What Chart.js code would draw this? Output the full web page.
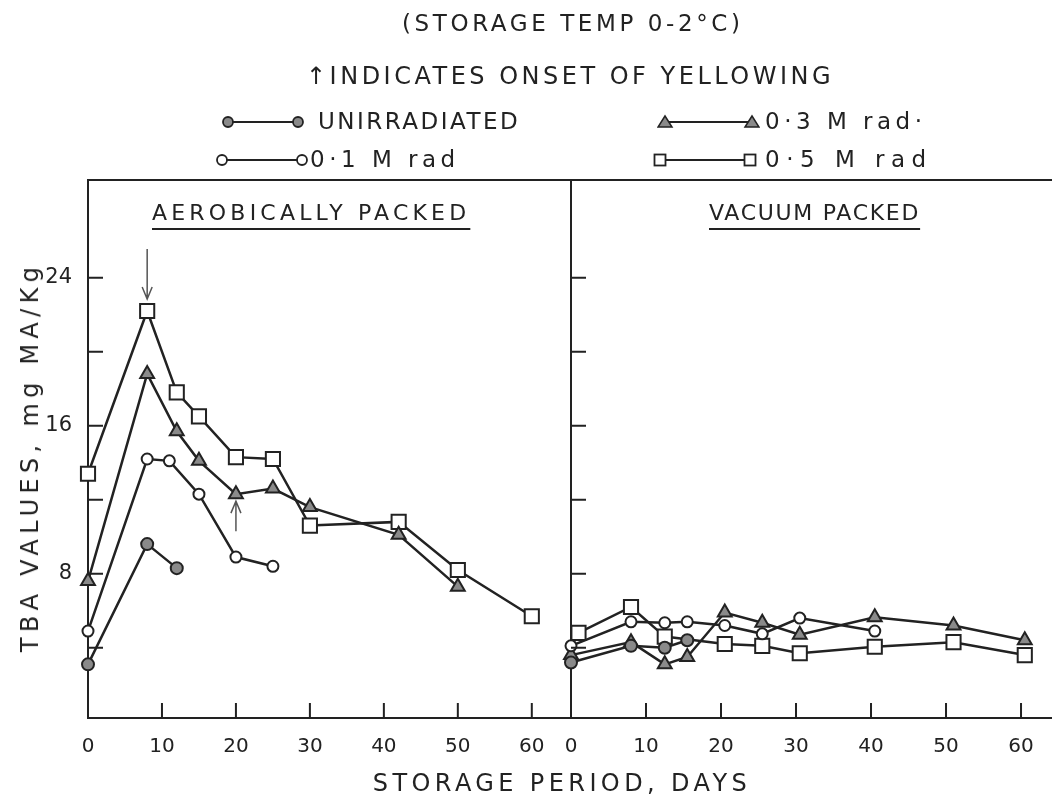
<!DOCTYPE html>
<html>
<head>
<meta charset="utf-8">
<script src="https://cdn.jsdelivr.net/npm/chart.js@4/dist/chart.umd.min.js"></script>
<style>
  body { margin: 0; background: #fff; width: 1052px; height: 803px; overflow: hidden; position: relative; font-family: "DejaVu Sans", sans-serif; color: #222; }
  .txt { position: absolute; white-space: nowrap; line-height: 1; }
  #aero { position: absolute; left: 0; top: 0; }
  #vac { position: absolute; left: 555px; top: 0; }
  .lg svg { position: absolute; }
</style>
</head>
<body>
<canvas id="aero" width="580" height="803"></canvas>
<canvas id="vac" width="497" height="803"></canvas>

<div class="txt" style="left:402px;top:12px;font-size:23px;letter-spacing:3.6px">(STORAGE TEMP 0-2°C)</div>
<div class="txt" style="left:306px;top:64px;font-size:24px;letter-spacing:3.5px">↑INDICATES ONSET OF YELLOWING</div>
<div id="legend" class="lg"></div>

<div class="txt" style="left:152px;top:202px;font-size:22px;letter-spacing:4.2px;text-decoration:underline;text-underline-offset:8px">AEROBICALLY PACKED</div>
<div class="txt" style="left:709px;top:202px;font-size:22px;letter-spacing:1.7px;text-decoration:underline;text-underline-offset:8px">VACUUM PACKED</div>

<div class="txt" style="left:30px;top:457px;font-size:24px;letter-spacing:5.3px;transform:translate(-50%,-50%) rotate(-90deg)">TBA VALUES, mg MA/Kg</div>
<div class="txt" style="left:562px;top:783px;font-size:24px;letter-spacing:4.4px;transform:translate(-50%,-50%)">STORAGE PERIOD, DAYS</div>

<script>
// series
const seriesNames = ['UNIRRADIATED', '0·1 M rad', '0·3 M rad·', '0·5 M rad'];

// aerobically packed
const aeroDaysUnirr = [0, 8, 12];
const aeroUnirr = [3.1, 9.6, 8.3];
const aeroDays01 = [0, 8, 11, 15, 20, 25];
const aero01 = [4.9, 14.2, 14.1, 12.3, 8.9, 8.4];
const aeroDays03 = [0, 8, 12, 15, 20, 25, 30, 42, 50];
const aero03 = [7.6, 18.8, 15.7, 14.1, 12.3, 12.6, 11.6, 10.1, 7.3];
const aeroDays05 = [0, 8, 12, 15, 20, 25, 30, 42, 50, 60];
const aero05 = [13.4, 22.2, 17.8, 16.5, 14.3, 14.2, 10.6, 10.8, 8.2, 5.7];

// vacuum packed
const vacDaysUnirr = [0, 8, 12.5, 15.5];
const vacUnirr = [3.2, 4.1, 4.0, 4.4];
const vacDays01 = [0, 8, 12.5, 15.5, 20.5, 25.5, 30.5, 40.5];
const vac01 = [4.1, 5.4, 5.35, 5.4, 5.2, 4.75, 5.6, 4.9];
const vacDays03 = [0, 8, 12.5, 15.5, 20.5, 25.5, 30.5, 40.5, 51, 60.5];
const vac03 = [3.6, 4.3, 3.1, 3.5, 5.9, 5.35, 4.7, 5.65, 5.2, 4.4];
const vacDays05 = [1, 8, 12.5, 20.5, 25.5, 30.5, 40.5, 51, 60.5];
const vac05 = [4.8, 6.2, 4.6, 4.2, 4.1, 3.7, 4.05, 4.3, 3.6];

// onset of yellowing arrows (aerobic panel)
const yellowDays = [8, 20];
const yellowValues = [22.2, 12.3];
const yellowDir = ['down', 'up'];

// ticks
const xTicks = [0, 10, 20, 30, 40, 50, 60];
const yTicks = [4, 8, 12, 16, 20, 24];
const yLabelled = [8, 16, 24];

const ink = '#222';
const grey = '#8a8a8a';
const styles = [
  { pointStyle: 'circle', radius: 6, fill: grey },
  { pointStyle: 'circle', radius: 5.5, fill: '#fff' },
  { pointStyle: 'triangle', radius: 8, fill: grey },
  { pointStyle: 'rect', radius: 10, fill: '#fff' }
];

function makeSet(i, days, vals) {
  return {
    label: seriesNames[i],
    data: days.map((d, k) => ({ x: d, y: vals[k] })),
    borderColor: ink,
    borderWidth: 2.5,
    pointStyle: styles[i].pointStyle,
    pointRadius: styles[i].radius,
    pointBackgroundColor: styles[i].fill,
    pointBorderColor: ink,
    pointBorderWidth: 2,
    tension: 0,
    clip: false
  };
}

// inward ticks + top border + yellowing arrows
const framePlugin = {
  id: 'frame',
  afterDraw(chart, args, opts) {
    const ctx = chart.ctx;
    const a = chart.chartArea;
    const xs = chart.scales.x, ys = chart.scales.y;
    ctx.save();
    ctx.strokeStyle = ink;
    ctx.lineWidth = 2;
    ctx.beginPath();
    ctx.moveTo(a.left, a.top); ctx.lineTo(a.right, a.top);
    yTicks.forEach(v => {
      const p = ys.getPixelForValue(v);
      ctx.moveTo(a.left, p); ctx.lineTo(a.left + 15, p);
    });
    xTicks.forEach(v => {
      if (v === 0) return;
      const p = xs.getPixelForValue(v);
      ctx.moveTo(p, a.bottom); ctx.lineTo(p, a.bottom - 15);
    });
    ctx.stroke();
    if (opts.arrows) {
      ctx.strokeStyle = '#555';
      ctx.lineWidth = 1.5;
      yellowDays.forEach((d, i) => {
        const px = xs.getPixelForValue(d);
        const py = ys.getPixelForValue(yellowValues[i]);
        ctx.beginPath();
        if (yellowDir[i] === 'down') {
          const tip = py - 12;
          ctx.moveTo(px, py - 62); ctx.lineTo(px, tip);
          ctx.moveTo(px - 5, tip - 12); ctx.lineTo(px, tip); ctx.lineTo(px + 5, tip - 12);
        } else {
          const tip = py + 7;
          ctx.moveTo(px, py + 37); ctx.lineTo(px, tip);
          ctx.moveTo(px - 5, tip + 12); ctx.lineTo(px, tip); ctx.lineTo(px + 5, tip + 12);
        }
        ctx.stroke();
      });
    }
    ctx.restore();
  }
};

function makeOptions(xMax, yWidth, showLabels, padRight, arrows) {
  return {
    responsive: false,
    animation: false,
    layout: { autoPadding: false, padding: { top: 180, right: padRight, left: 0, bottom: 0 } },
    plugins: { legend: { display: false }, tooltip: { enabled: false }, frame: { arrows: arrows } },
    scales: {
      x: {
        type: 'linear', min: 0, max: xMax,
        afterBuildTicks: s => { s.ticks = xTicks.map(v => ({ value: v })); },
        afterFit: s => { s.height = 85; s.paddingLeft = 0; s.paddingRight = 0; },
        grid: { display: false, drawTicks: false },
        border: { display: true, color: ink, width: 2 },
        ticks: { padding: 17, color: ink, font: { family: 'DejaVu Sans', size: 20 }, maxRotation: 0 }
      },
      y: {
        type: 'linear', min: 0.2, max: 29.28,
        afterBuildTicks: s => { s.ticks = yTicks.map(v => ({ value: v })); },
        afterFit: s => { s.width = yWidth; s.paddingTop = 0; s.paddingBottom = 0; },
        grid: { display: false, drawTicks: false },
        border: { display: true, color: ink, width: 2 },
        ticks: {
          display: showLabels, padding: 16, color: ink,
          font: { family: 'DejaVu Sans', size: 21 },
          callback: v => yLabelled.includes(v) ? String(v) : ''
        }
      }
    }
  };
}

new Chart(document.getElementById('aero'), {
  type: 'line',
  data: { datasets: [
    makeSet(0, aeroDaysUnirr, aeroUnirr),
    makeSet(1, aeroDays01, aero01),
    makeSet(2, aeroDays03, aero03),
    makeSet(3, aeroDays05, aero05)
  ] },
  options: makeOptions(65.3, 88, true, 9, true),
  plugins: [framePlugin]
});

new Chart(document.getElementById('vac'), {
  type: 'line',
  data: { datasets: [
    makeSet(0, vacDaysUnirr, vacUnirr),
    makeSet(1, vacDays01, vac01),
    makeSet(2, vacDays03, vac03),
    makeSet(3, vacDays05, vac05)
  ] },
  options: makeOptions(64.13, 16, false, 0, false),
  plugins: [framePlugin]
});

// legend: marker line + label, laid out like the figure
const legendPos = [
  { x: 228, y: 122, w: 70, tx: 318, ls: 2.5 },
  { x: 222, y: 160, w: 80, tx: 310, ls: 4.5 },
  { x: 665, y: 122, w: 87, tx: 765, ls: 4.5 },
  { x: 660, y: 160, w: 90, tx: 765, ls: 6.5 }
];
const lg = document.getElementById('legend');
function markerSvg(i, cx, cy) {
  const s = styles[i];
  if (s.pointStyle === 'circle') return `<circle cx="${cx}" cy="${cy}" r="5" fill="${s.fill}" stroke="${ink}" stroke-width="1.8"/>`;
  if (s.pointStyle === 'triangle') return `<polygon points="${cx - 7},${cy + 5} ${cx + 7},${cy + 5} ${cx},${cy - 6}" fill="${s.fill}" stroke="${ink}" stroke-width="1.5"/>`;
  return `<rect x="${cx - 5.5}" y="${cy - 5.5}" width="11" height="11" fill="${s.fill}" stroke="${ink}" stroke-width="1.8"/>`;
}
seriesNames.forEach((name, i) => {
  const p = legendPos[i];
  const w = p.w + 16;
  lg.insertAdjacentHTML('beforeend',
    `<svg style="left:${p.x - 8}px;top:${p.y - 8}px" width="${w}" height="16">` +
    `<line x1="8" y1="8" x2="${p.w + 8}" y2="8" stroke="${ink}" stroke-width="2"/>` +
    markerSvg(i, 8, 8) + markerSvg(i, p.w + 8, 8) + `</svg>` +
    `<div class="txt" style="left:${p.tx}px;top:${p.y - 12}px;font-size:23px;letter-spacing:${p.ls}px">${name}</div>`);
});
</script>
</body>
</html>
